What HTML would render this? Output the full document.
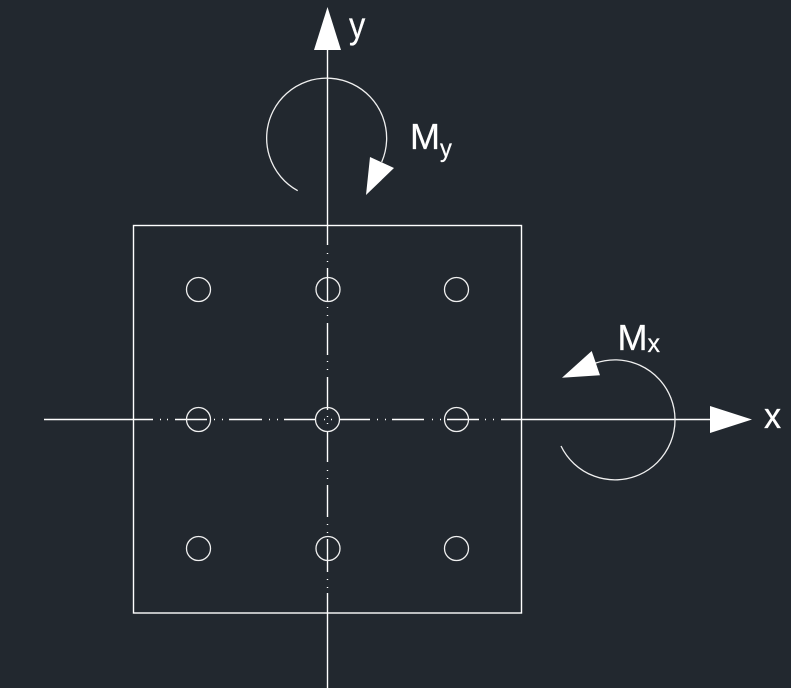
<!DOCTYPE html>
<html>
<head>
<meta charset="utf-8">
<style>
html,body{margin:0;padding:0;background:#22282f;width:791px;height:688px;overflow:hidden}
svg{display:block}
text{font-family:"Liberation Sans",sans-serif;fill:#fff;stroke:#fff;stroke-width:.25}
</style>
</head>
<body>
<svg width="791" height="688" viewBox="0 0 791 688" xmlns="http://www.w3.org/2000/svg">
<rect width="791" height="688" fill="#22282f"/>
<g fill="none" stroke="#fff" stroke-width="1.4">
<rect x="133.5" y="225.5" width="388" height="387.5"/>
<path d="M327.5 45V245M327.5 253v1M327.5 261v1M327.5 268V301M327.5 307v1M327.5 315v1M327.5 323V355M327.5 361v1M327.5 369v1M327.5 377V410M327.5 416v1M327.5 423v1M327.5 432V462M327.5 470v1M327.5 478v1M327.5 485V517M327.5 524v1M327.5 532v1M327.5 539V572M327.5 579v1M327.5 587v1M327.5 593V688"/>
<path d="M44 419.5H153M160 419.5h1M167 419.5h1M175 419.5H207M214 419.5h1M222 419.5h1M229 419.5H262M269 419.5h1M277 419.5h1M284 419.5H316M324 419.5h1M331 419.5h1M339 419.5H370M377 419.5h1M385 419.5h1M392 419.5H424M432 419.5h1M440 419.5h1M447 419.5H479M485 419.5h1M493 419.5h1M501 419.5H715"/>
</g>
<g fill="none" stroke="#f0f0f0" stroke-width="1.3">
<circle cx="198.5" cy="289.5" r="12"/>
<circle cx="328" cy="289.5" r="12"/>
<circle cx="456.5" cy="289.5" r="12"/>
<circle cx="198.5" cy="419.5" r="12"/>
<circle cx="327.5" cy="419.5" r="12"/>
<circle cx="456.5" cy="419.5" r="12"/>
<circle cx="198.5" cy="548.5" r="12"/>
<circle cx="328" cy="548.5" r="12"/>
<circle cx="456.5" cy="548.5" r="12"/>
<path d="M297.7 190.7A60 60 0 1 1 381.7 162"/>
<path d="M561 446A60 60 0 1 0 595 363.3"/>
</g>
<g fill="#fff">
<polygon points="327.5,7 341,50 314,50"/>
<polygon points="752,419.5 710,406 710,433"/>
<polygon points="370,157 394,168 366,195"/>
<polygon points="591.7,351 600,375.3 562,377.7"/>
</g>
<text transform="translate(349 38) scale(.88 1)" font-size="37">y</text>
<text transform="translate(764 428) scale(.95 1)" font-size="36">x</text>
<text transform="translate(410 149)" font-size="36">M</text>
<text transform="translate(440 157) scale(.95 1)" font-size="25">y</text>
<text transform="translate(617.5 350)" font-size="36">M</text>
<text transform="translate(647.5 352)" font-size="25">x</text>
</svg>
</body>
</html>
